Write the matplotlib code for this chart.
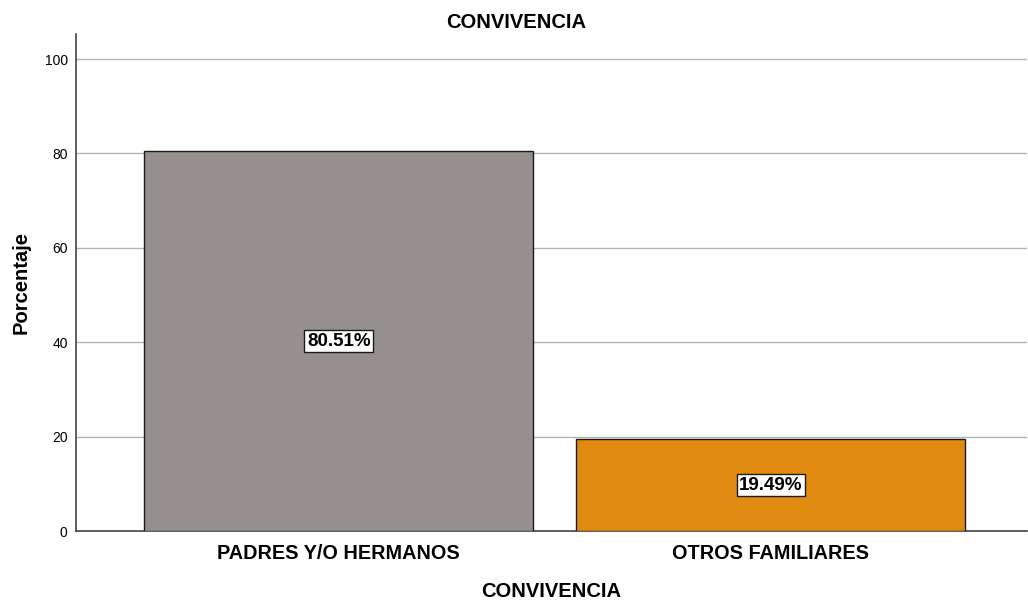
import numpy as np
import matplotlib.pyplot as plt

plt.rcParams["font.family"] = ["Liberation Sans", "DejaVu Sans"]

# ===================== 数据 =====================
categorias = ["PADRES Y/O HERMANOS", "OTROS FAMILIARES"]
porcentajes = [80.51, 19.49]
colores = ["#958f8d", "#e08a10"]

fig = plt.figure(figsize=(10.28, 6.03), dpi=100)
ax = fig.add_axes([0.0739, 0.1194, 0.925, 0.8242])

x = np.arange(len(categorias))
ax.bar(x, porcentajes, width=0.9, color=colores, edgecolor="#1a1a1a", linewidth=1, zorder=3)

for xi, v in zip(x, porcentajes):
    ax.text(xi, v / 2, f"{v:.2f}%", ha="center", va="center", fontsize=13.5, fontweight="bold",
            bbox=dict(boxstyle="square,pad=0.14", facecolor="white", edgecolor="#1a1a1a", linewidth=1),
            zorder=4)

ax.set_xlim(-0.608, 1.592)
ax.set_ylim(0, 105.3)
ax.set_yticks([0, 20, 40, 60, 80, 100])
ax.yaxis.grid(True, color="#b4b4b4", linewidth=1, zorder=0)
ax.set_axisbelow(True)
ax.tick_params(axis="y", length=0, labelsize=10, pad=6)
ax.tick_params(axis="x", length=0, labelsize=14.3, pad=9)
ax.set_xticks(x)
ax.set_xticklabels(categorias, fontweight="bold")

for s in ["top", "right"]:
    ax.spines[s].set_visible(False)
for s in ["left", "bottom"]:
    ax.spines[s].set_color("#444444")
    ax.spines[s].set_linewidth(1.2)

ax.set_xlabel("CONVIVENCIA", fontsize=14.5, fontweight="bold", labelpad=14)
ax.set_ylabel("Porcentaje", fontsize=14.5, fontweight="bold", labelpad=10)
fig.text(0.5025, 0.963, "CONVIVENCIA", ha="center", va="center", fontsize=14.5, fontweight="bold")

plt.savefig("out.png", dpi=100)
